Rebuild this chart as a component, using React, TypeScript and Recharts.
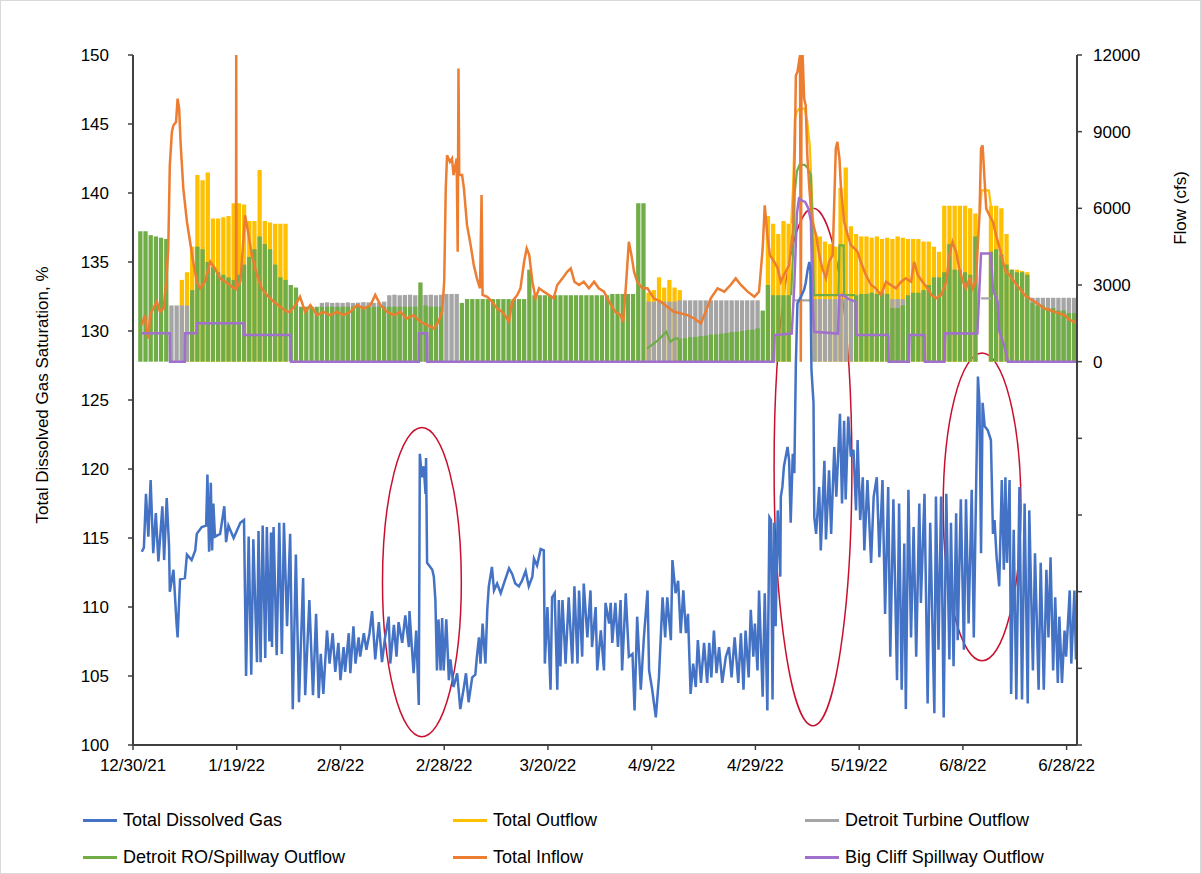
import React from "react";
import { ComposedChart, Bar, Line, XAxis, YAxis, ReferenceArea } from "recharts";

const FONT = '"Liberation Sans", Arial, sans-serif';
const BAR_W = 4.3;

// x axis: days after 12/30/21
const dayTicks = [0, 20, 40, 60, 80, 100, 120, 140, 160, 180];
const dayLabels = ["12/30/21", "1/19/22", "2/8/22", "2/28/22", "3/20/22", "4/9/22", "4/29/22", "5/19/22", "6/8/22", "6/28/22"];
const tdgTicks = [100, 105, 110, 115, 120, 125, 130, 135, 140, 145, 150];
const flowTicks = [-15000, -12000, -9000, -6000, -3000, 0, 3000, 6000, 9000, 12000];

// daily stripe tops (cfs) where the hourly flow flickers to zero, index = day
const outflowDaily = [
  0, 0, 0, 0, 0, 0, 0, 0, 0, 3200, 3500, 4500, 7300, 7100, 7400, 5600, 5600, 5650, 5700, 6200,
  6200, 6150, 5500, 5500, 7500, 5500, 5450, 5400, 5400, 5400, 0, 0, 0, 0, 0, 0, 0, 0, 0, 0,
  0, 0, 0, 0, 0, 0, 0, 0, 0, 0, 0, 0, 0, 0, 0, 0, 0, 0, 0, 0,
  0, 0, 0, 0, 0, 0, 0, 0, 0, 0, 0, 0, 0, 0, 0, 0, 0, 0, 0, 0,
  0, 0, 0, 0, 0, 0, 0, 0, 0, 0, 0, 0, 0, 0, 0, 0, 0, 0, 0, 2700,
  2800, 3300, 2900, 3200, 2900, 2800, 0, 0, 0, 0, 0, 0, 0, 0, 0, 0, 0, 0, 0, 0,
  0, 0, 5700, 5400, 5000, 5500, 5400, 0, 0, 0, 0, 4900, 4900, 4700, 4600, 4500, 6800, 7600, 5300, 5000,
  4900, 4900, 4850, 4900, 4800, 4850, 4800, 4900, 4850, 4800, 4800, 4800, 4700, 4700, 4500, 4300, 6100, 6100, 6100, 6100,
  6100, 6000, 5800, 0, 0, 6100, 6100, 6000, 5000, 3600, 3600, 3550, 3500, 0, 0, 0, 0, 0, 0, 0,
  0, 0,
];
const turbineDaily = [
  0, 0, 0, 0, 0, 0, 0, 2200, 2200, 2200, 2200, 0, 0, 0, 0, 0, 0, 0, 0, 0,
  0, 0, 0, 0, 0, 0, 0, 0, 0, 0, 0, 0, 0, 0, 0, 0, 2300, 2320, 2300, 2310,
  2300, 2320, 2300, 2310, 2330, 2320, 2300, 2310, 2350, 2600, 2620, 2600, 2610, 2620, 2600, 2600, 2610, 2620, 2600, 2620,
  2650, 2650, 2650, 0, 0, 0, 0, 0, 0, 0, 0, 0, 0, 0, 0, 0, 0, 0, 0, 0,
  0, 0, 0, 0, 0, 0, 0, 0, 0, 0, 0, 0, 0, 0, 0, 0, 0, 0, 0, 2350,
  2350, 2350, 2350, 2350, 2350, 2400, 2400, 2400, 2400, 2400, 2400, 2400, 2400, 2400, 2400, 2400, 2400, 2400, 2400, 2400,
  2400, 0, 0, 0, 0, 0, 0, 0, 0, 0, 0, 2450, 2450, 2450, 2450, 2450, 2450, 2450, 2450, 0,
  0, 0, 0, 0, 0, 0, 2450, 2450, 2450, 0, 0, 0, 0, 0, 0, 0, 0, 0, 0, 0,
  0, 0, 0, 0, 0, 0, 0, 0, 0, 0, 0, 0, 0, 2500, 2500, 2500, 2500, 2500, 2500, 2500,
  2500, 2500,
];
const spillDaily = [
  0, 5100, 5100, 4950, 4900, 4850, 4800, 0, 0, 0, 0, 2800, 4500, 4400, 3900, 3700, 3500, 3400, 3300, 3200,
  3400, 3800, 4100, 4400, 4900, 4600, 4400, 3800, 3300, 3200, 3000, 2900, 2150, 2150, 2150, 2150, 2150, 2150, 2150, 2150,
  2150, 2150, 2150, 2150, 2150, 2150, 2150, 2150, 2150, 2150, 2150, 2150, 2150, 2150, 2150, 3100, 2200, 2150, 2150, 2150,
  0, 0, 0, 2300, 2450, 2450, 2450, 2450, 2450, 2450, 2450, 2450, 2450, 2450, 2450, 2450, 3600, 2600, 2600, 2600,
  2600, 2600, 2600, 2600, 2600, 2600, 2600, 2600, 2600, 2600, 2600, 2600, 2650, 2650, 2650, 2650, 2650, 6200, 6200, 0,
  0, 0, 0, 0, 0, 900, 920, 960, 970, 1000, 1020, 1060, 1070, 1100, 1120, 1160, 1170, 1200, 1240, 1250,
  1300, 2000, 3000, 2600, 2600, 2600, 2600, 0, 0, 0, 0, 0, 0, 0, 0, 0, 0, 0, 0, 2600,
  2650, 2650, 2700, 2650, 2700, 2650, 2100, 2100, 2200, 2600, 2700, 2700, 2800, 3000, 3300, 3300, 3500, 4600, 3600, 3600,
  3500, 3400, 4900, 0, 0, 4300, 4400, 4200, 3800, 3600, 3500, 3500, 3400, 2300, 2200, 2200, 2100, 2100, 2000, 2000,
  1900, 1900,
];

// [day, value] readings; null breaks a line
const tdgPoints: [number, number][] = [
  [1.7, 114.0], [2.1, 114.3], [2.5, 118.2], [2.96, 115.1], [3.4, 119.2], [3.9, 113.9], [4.4, 116.8], [4.9, 113.3],
  [5.66, 117.3], [6.0, 113.4], [6.5, 117.9], [6.95, 114.4], [7.1, 111.1], [7.8, 112.7], [8.4, 108.8], [8.6, 107.8],
  [9.07, 112.0], [10.0, 112.1], [10.4, 113.8], [11.3, 113.4], [12.0, 114.1], [12.3, 115.3], [13.25, 115.8], [14.1, 115.9],
  [14.35, 119.6], [14.67, 114.0], [15.0, 119.0], [15.25, 114.1], [15.5, 117.5], [15.8, 115.1], [16.8, 115.3], [17.6, 117.3],
  [17.95, 114.7], [18.4, 115.9], [19.4, 115.0], [20.7, 116.1], [21.4, 116.3], [21.8, 105.0], [22.3, 115.1], [22.8, 105.1],
  [23.2, 114.9], [23.9, 106.0], [24.2, 115.5], [24.6, 106.0], [25.0, 115.9], [25.5, 106.3], [25.8, 115.8], [26.3, 107.5],
  [26.6, 115.4], [26.8, 107.1], [27.1, 115.8], [27.7, 106.5], [28.2, 116.1], [28.7, 106.6], [29.1, 116.1], [29.7, 108.6],
  [30.3, 115.3], [30.8, 102.6], [31.4, 113.8], [32.0, 103.1], [32.8, 112.1], [33.2, 103.6], [34.0, 110.5], [34.7, 103.6],
  [35.3, 109.5], [35.8, 103.4], [36.2, 106.6], [36.7, 103.7], [37.4, 108.3], [37.9, 105.9], [38.5, 108.1], [39.0, 105.3],
  [39.6, 107.4], [40.0, 104.7], [40.6, 107.1], [40.9, 105.3], [41.6, 108.1], [41.9, 105.2], [42.5, 108.6], [42.9, 105.9],
  [43.5, 107.8], [43.8, 106.4], [44.5, 108.1], [45.0, 106.9], [45.6, 108.1], [46.1, 109.7], [46.7, 106.2], [47.4, 108.9],
  [48.0, 106.0], [48.6, 107.8], [49.3, 109.3], [49.6, 105.9], [50.3, 108.7], [50.8, 106.4], [51.2, 108.9], [51.9, 107.4],
  [52.5, 109.4], [53.2, 107.1], [53.3, 109.7], [54.1, 105.2], [54.6, 108.3], [55.1, 102.9], [55.3, 121.1], [55.7, 119.4],
  [56.05, 120.2], [56.4, 118.2], [56.5, 120.8], [56.7, 113.2], [57.3, 112.9], [57.7, 112.7], [58.0, 112.2], [58.3, 110.5],
  [58.6, 105.4], [58.9, 109.1], [59.3, 105.4], [59.6, 109.2], [59.9, 105.4], [60.4, 109.1], [60.9, 104.7], [61.2, 106.2],
  [61.8, 104.2], [62.5, 105.2], [63.1, 102.6], [63.8, 104.2], [64.2, 105.2], [64.7, 103.1], [65.4, 104.9], [66.0, 105.1],
  [66.3, 106.4], [66.7, 107.8], [67.0, 105.9], [67.4, 108.8], [67.95, 105.9], [68.3, 109.8], [68.6, 111.5], [69.2, 112.9],
  [69.6, 111.2], [70.2, 111.7], [70.9, 111.0], [71.5, 111.7], [72.5, 112.8], [73.1, 112.4], [73.7, 111.7], [74.4, 111.5],
  [75.0, 111.9], [75.7, 112.6], [76.3, 111.5], [77.0, 112.2], [77.3, 113.5], [77.9, 113.0], [78.6, 114.2], [79.2, 114.1],
  [79.4, 105.9], [79.9, 110.0], [80.5, 104.0], [80.8, 110.7], [81.3, 111.0], [81.8, 104.0], [82.1, 110.5], [82.4, 105.7],
  [82.8, 110.5], [83.4, 105.9], [84.0, 110.7], [84.7, 105.9], [85.1, 111.5], [85.7, 105.9], [86.0, 111.2], [86.6, 106.4],
  [86.9, 111.7], [87.6, 107.8], [88.2, 111.2], [88.5, 107.1], [89.2, 110.0], [89.5, 105.4], [90.2, 108.3], [90.8, 105.4],
  [91.1, 110.3], [91.8, 108.8], [92.1, 110.3], [92.4, 107.4], [93.0, 110.3], [93.5, 107.1], [94.0, 110.5], [94.3, 105.4],
  [95.0, 111.0], [95.6, 106.4], [96.3, 106.6], [96.7, 102.5], [97.2, 109.3], [97.9, 104.0], [98.5, 107.8], [99.2, 111.2],
  [99.5, 105.4], [100.1, 104.0], [100.8, 102.0], [101.4, 104.9], [102.1, 110.7], [102.6, 107.8], [103.0, 110.7], [103.7, 107.6],
  [104.0, 113.4], [104.6, 111.0], [105.1, 111.9], [105.6, 108.1], [106.1, 111.2], [106.6, 108.1], [107.0, 109.5], [107.5, 103.7],
  [108.0, 105.9], [108.5, 104.2], [108.9, 107.6], [109.5, 104.5], [110.1, 107.4], [110.7, 104.5], [111.1, 107.4], [111.5, 104.9],
  [112.0, 108.3], [112.5, 105.2], [113.0, 107.1], [113.6, 104.5], [114.3, 106.4], [114.9, 107.1], [115.4, 104.9], [116.0, 107.8],
  [116.7, 104.5], [117.2, 108.1], [117.7, 104.0], [118.1, 108.3], [118.7, 104.9], [119.1, 109.8], [119.6, 106.4], [119.9, 108.8],
  [120.4, 105.4], [120.7, 111.2], [121.4, 103.5], [121.8, 111.0], [122.3, 102.5], [122.7, 116.5], [123.0, 116.3], [123.3, 103.3],
  [123.6, 116.1], [123.9, 108.6], [124.3, 117.0], [124.8, 112.2], [124.9, 118.0], [125.2, 118.7], [125.5, 120.2], [126.2, 121.6],
  [126.5, 120.6], [126.8, 116.1], [127.2, 121.1], [127.5, 119.7], [127.8, 127.7], [128.1, 132.0], [128.8, 132.5], [129.4, 133.0],
  [129.7, 133.5], [130.05, 134.4], [130.4, 135.0], [130.6, 134.4], [130.8, 127.2], [131.0, 126.0], [131.2, 124.8], [131.35, 116.5],
  [131.7, 115.3], [132.3, 118.7], [132.6, 114.1], [133.3, 120.6], [133.6, 114.9], [134.2, 119.9], [134.6, 115.3], [135.2, 121.6],
  [135.6, 118.0], [136.3, 124.0], [136.7, 117.5], [137.1, 123.5], [137.4, 117.8], [137.9, 123.8], [138.4, 120.9], [138.9, 121.4],
  [139.4, 117.0], [139.7, 122.1], [140.2, 116.3], [140.7, 119.4], [141.0, 114.1], [141.6, 119.2], [142.3, 113.2], [142.8, 118.0],
  [143.4, 119.4], [143.9, 113.6], [144.5, 119.2], [145.0, 109.5], [145.6, 118.7], [146.0, 106.4], [146.6, 117.8], [147.3, 104.7],
  [147.7, 117.5], [148.2, 104.0], [148.7, 114.6], [149.0, 102.6], [149.5, 118.5], [150.0, 107.8], [150.5, 115.8], [151.0, 106.4],
  [151.6, 117.5], [151.9, 110.3], [152.6, 118.2], [153.2, 103.0], [153.7, 116.1], [154.5, 102.3], [154.8, 118.0], [155.3, 106.9],
  [155.8, 118.0], [156.3, 102.0], [156.8, 118.2], [157.4, 106.2], [157.7, 116.1], [158.2, 105.7], [158.7, 116.8], [159.0, 107.6],
  [159.6, 117.8], [160.2, 106.9], [160.6, 117.8], [161.1, 108.8], [161.7, 118.5], [162.1, 107.8], [162.4, 115.1], [162.9, 126.7],
  [163.2, 124.8], [163.5, 113.9], [163.8, 124.8], [164.2, 123.1], [164.8, 122.8], [165.4, 122.1], [165.8, 115.3], [166.1, 116.3],
  [166.5, 113.6], [167.0, 111.5], [167.5, 119.2], [167.9, 112.7], [168.2, 119.4], [168.5, 113.2], [169.0, 119.2], [169.3, 103.7],
  [169.8, 115.6], [170.3, 103.3], [170.9, 118.7], [171.4, 103.3], [171.9, 117.5], [172.5, 103.0], [172.8, 117.0], [173.5, 105.4],
  [173.9, 113.9], [174.6, 104.0], [175.0, 113.2], [175.6, 104.0], [176.1, 112.7], [176.5, 107.8], [176.9, 113.6], [177.4, 105.4],
  [177.8, 110.7], [178.3, 104.5], [178.6, 109.3], [179.1, 104.5], [179.6, 108.3], [179.9, 106.4], [180.6, 111.2], [180.9, 105.9],
  [181.5, 111.2], [181.8, 106.2], [182.0, 108.3],
];

const inflowPoints: [number, number][] = [
  [1.7, 1430], [2.3, 1820], [2.6, 1300], [2.96, 910], [3.3, 1820], [3.9, 2080], [4.6, 2350], [5.2, 1950], [5.9, 2080],
  [6.4, 3130], [6.8, 4430], [7.1, 7690], [7.5, 9000], [7.8, 9250], [8.3, 9380], [8.6, 10290], [8.9, 9900], [9.2, 8470],
  [9.7, 6780], [10.4, 5470], [11.0, 4690], [11.6, 3910], [12.3, 3130], [12.9, 2870], [13.9, 3130], [14.9, 3910], [15.8, 3650],
  [16.8, 3260], [17.8, 3130], [18.7, 3000], [19.4, 2870], [19.85, 2870], [19.9, 12000], [19.95, 2870], [20.7, 3130], [21.3, 4820],
  [21.6, 5730], [22.3, 4950], [22.9, 4170], [23.9, 3390], [24.8, 2870], [25.8, 2610], [27.1, 2350], [28.4, 2150], [29.7, 1950],
  [30.3, 1950], [31.3, 2215], [32.2, 2540], [33.2, 1950], [34.2, 2215], [35.5, 1820], [36.7, 1950], [38.0, 1820], [39.3, 1950],
  [40.6, 1820], [41.9, 1950], [43.2, 2215], [44.5, 2080], [45.8, 2215], [46.7, 2610], [47.7, 2215], [49.0, 1950], [50.3, 1820],
  [51.5, 1950], [52.8, 1690], [54.1, 1820], [55.4, 1560], [56.7, 1430], [58.0, 1300], [58.9, 1560], [59.6, 1950], [60.0, 3130],
  [60.3, 6780], [60.55, 8080], [61.1, 7820], [61.5, 7950], [61.8, 7300], [62.4, 7950], [62.6, 4300], [62.75, 11470], [62.9, 7300],
  [63.45, 7300], [63.8, 6780], [64.4, 5340], [65.1, 4560], [65.7, 3780], [66.3, 3260], [66.9, 2870], [67.2, 6520], [67.4, 2610],
  [68.3, 2540], [69.2, 2350], [70.2, 2080], [71.2, 1950], [72.1, 1690], [72.5, 1560], [73.1, 2350], [74.1, 2610], [74.7, 2870],
  [75.4, 3910], [75.9, 4430], [76.4, 4170], [77.0, 3130], [77.6, 2480], [78.3, 2870], [79.2, 2740], [80.2, 2610], [81.1, 2480],
  [81.8, 3000], [82.8, 3260], [83.7, 3520], [84.4, 3650], [85.1, 3130], [86.0, 3000], [86.9, 3130], [87.9, 2870], [88.9, 3130],
  [89.8, 2870], [90.8, 2740], [91.8, 2350], [93.0, 1950], [94.0, 1820], [94.5, 1560], [95.0, 2870], [95.6, 4690], [96.1, 4170],
  [96.6, 3520], [97.2, 3130], [98.2, 2870], [99.2, 2870], [100.4, 2480], [101.7, 2350], [103.0, 2150], [104.3, 1950], [105.6, 1890],
  [106.9, 1820], [108.2, 1690], [109.5, 1500], [110.4, 1950], [111.4, 2480], [112.7, 2870], [114.0, 2740], [115.2, 3000], [116.2, 3260],
  [117.2, 3000], [118.5, 2740], [119.8, 2540], [120.7, 2740], [121.4, 4430], [121.8, 6120], [122.3, 4950], [122.8, 4170], [123.6, 3910],
  [124.3, 3650], [124.9, 3130], [125.5, 3390], [126.5, 3780], [127.2, 5080], [127.6, 8340], [127.8, 11200], [128.1, 11340], [128.6, 12000],
  [128.75, 0], [128.9, 12000], [129.1, 12000], [129.4, 10290], [129.7, 10030], [130.0, 8080], [130.4, 6780], [130.7, 5990], [131.0, 5470],
  [131.7, 4950], [132.3, 4170], [132.9, 3650], [133.6, 3260], [134.2, 3910], [134.9, 4170], [135.5, 8340], [135.8, 8600], [136.2, 7950],
  [136.5, 6780], [137.1, 5470], [137.8, 4950], [138.4, 4560], [139.1, 4430], [139.7, 4300], [140.3, 3910], [141.3, 3390], [142.3, 3000],
  [143.2, 2870], [144.2, 2610], [145.2, 3130], [146.1, 3000], [147.1, 2870], [148.1, 3130], [149.0, 3260], [150.0, 3130], [150.6, 3910],
  [151.3, 3390], [152.2, 3130], [153.2, 2870], [153.9, 2610], [154.8, 2480], [155.8, 2610], [156.8, 3130], [157.4, 4170], [158.0, 4690],
  [158.7, 4300], [159.3, 3650], [160.0, 3130], [160.6, 2870], [161.3, 3260], [161.9, 2870], [162.5, 3130], [163.2, 5730], [163.5, 8340],
  [163.8, 8470], [164.2, 7040], [164.5, 5990], [165.1, 5730], [165.8, 5470], [166.4, 4950], [167.1, 4430], [167.7, 3910], [168.3, 3520],
  [169.0, 3390], [169.9, 3130], [170.9, 2870], [171.9, 2610], [172.8, 2480], [173.8, 2350], [174.8, 2215], [175.7, 2080], [176.7, 2020],
  [177.7, 1950], [178.6, 1890], [179.6, 1820], [180.6, 1630], [181.5, 1560], [182.2, 1430],
];

const bigCliffPoints: [number, number][] = [
  [1.7, 1110], [7.1, 1110], [7.15, 0], [10.0, 0], [10.05, 1110], [12.3, 1110], [12.35, 1500], [21.3, 1500], [21.35, 1040],
  [30.4, 1040], [30.5, 0], [55.1, 0], [55.15, 1110], [56.7, 1110], [56.75, 0], [123.5, 0], [123.7, 1040], [127.0, 1100],
  [127.5, 3000], [128.0, 5800], [128.4, 6380], [129.0, 6300], [129.6, 6250], [130.2, 6000], [130.7, 5500], [131.0, 2350],
  [131.3, 1170], [135.9, 1100], [136.2, 2600], [136.8, 2610], [138.0, 2450], [139.3, 2350], [139.4, 1040], [145.6, 1040],
  [145.7, 0], [149.6, 0], [149.7, 1040], [152.6, 1040], [152.7, 0], [156.4, 0], [156.6, 1110], [162.8, 1100], [163.1, 2500],
  [163.5, 4230], [165.4, 4230], [165.8, 2800], [166.7, 2350], [167.0, 1200], [168.0, 600], [168.7, 0], [182.2, 0],
];

// stretches where the flows run steady (drawn as plain lines)
const spillLinePoints: [number, number | null][] = [
  [99.1, 520], [100.0, 650], [101.0, 800], [102.0, 1000], [102.8, 1170], [103.6, 780], [104.5, 900], [105.2, 910], [115, null],
  [126.9, 2600], [127.3, 4500], [127.6, 6650], [128.0, 7450], [128.5, 7700], [129.5, 7700], [130.0, 7600], [130.7, 7300],
  [131.0, 5000], [131.3, 2600], [136.0, 2600], [136.2, 4550], [137.0, 4550], [137.1, 2600], [139.2, 2600],
];
const outflowLinePoints: [number, number | null][] = [
  [126.9, 5400], [127.3, 7000], [127.6, 9500], [128.0, 9800], [128.5, 9900], [129.5, 9900], [130.0, 9400], [130.5, 8400],
  [131.0, 6000], [131.3, 4900], [150, null], [163.3, 5800], [163.6, 6700], [165.0, 6700], [165.4, 6100],
];
const turbineLinePoints: [number, number | null][] = [
  [127.4, 2400], [131.3, 2400], [150, null], [163.5, 2480], [165.4, 2480],
];

// circled events: [startDay, endDay], [low %, high %]
const highlightDays = [[48.1, 63.3], [123.6, 138.6], [156.2, 171.2]];
const highlightTdg = [[100.6, 123.0], [101.4, 138.9], [106.1, 128.4]];

const legendItems = [
  { name: "Total Dissolved Gas", color: "#4472C4" },
  { name: "Total Outflow", color: "#FFC000" },
  { name: "Detroit Turbine Outflow", color: "#A5A5A5" },
  { name: "Detroit RO/Spillway Outflow", color: "#70AD47" },
  { name: "Total Inflow", color: "#ED7D31" },
  { name: "Big Cliff Spillway Outflow", color: "#A070CC" },
];

const dailyRows = spillDaily.map((g, i) => ({
  day: i,
  outflow: outflowDaily[i],
  turbine: turbineDaily[i],
  spill: g,
}));

const toRows = (pts: [number, number | null][]) => pts.map(([d, v]) => ({ d, v }));

const EllipseShape = (props: any) => {
  const { x, y, width, height } = props;
  return (
    <ellipse
      cx={x + width / 2}
      cy={y + height / 2}
      rx={Math.abs(width) / 2}
      ry={Math.abs(height) / 2}
      fill="none"
      stroke="#C8102E"
      strokeWidth={1.5}
    />
  );
};

const tickStyle = { fill: "#000", fontSize: 17, fontFamily: FONT };
const axisColor = "#404040";

export default function App() {
  return (
    <div style={{ position: "absolute", left: 0, top: 0, width: 1201, height: 874, background: "#fff", fontFamily: FONT }}>
      <div style={{ position: "absolute", left: 0, top: 0, width: 1199, height: 872, border: "1px solid #d9d9d9" }} />
      <ComposedChart
        width={1201}
        height={790}
        data={dailyRows}
        margin={{ top: 55, right: 0, bottom: 0, left: 0 }}
        barSize={BAR_W}
        barGap={-BAR_W}
        barCategoryGap={0}
      >
        <XAxis xAxisId="cat" dataKey="day" type="category" orientation="top" height={0} hide />
        <XAxis
          xAxisId="t"
          dataKey="d"
          type="number"
          domain={[0, 182]}
          ticks={dayTicks}
          tickFormatter={(v) => dayLabels[dayTicks.indexOf(v)] ?? ""}
          height={45}
          tickSize={5}
          tickMargin={9}
          tick={tickStyle}
          axisLine={{ stroke: axisColor, strokeWidth: 2 }}
          tickLine={{ stroke: axisColor, strokeWidth: 1.5 }}
          allowDataOverflow
        />
        <YAxis
          yAxisId="tdg"
          orientation="left"
          width={133}
          domain={[100, 150]}
          ticks={tdgTicks}
          tickSize={5}
          tickMargin={19}
          tick={tickStyle}
          axisLine={{ stroke: axisColor, strokeWidth: 2 }}
          tickLine={{ stroke: axisColor, strokeWidth: 1.5 }}
          allowDataOverflow
        />
        <YAxis
          yAxisId="flow"
          orientation="right"
          width={124}
          domain={[-15000, 12000]}
          ticks={flowTicks}
          tickFormatter={(v) => (v >= 0 ? String(v) : "")}
          tickSize={5}
          tickMargin={11}
          tick={tickStyle}
          axisLine={{ stroke: axisColor, strokeWidth: 2 }}
          tickLine={{ stroke: axisColor, strokeWidth: 1.5 }}
          allowDataOverflow
        />

        <Bar xAxisId="cat" yAxisId="flow" dataKey="outflow" fill="#FFC000" barSize={BAR_W} isAnimationActive={false} activeBar={false} />
        <Bar xAxisId="cat" yAxisId="flow" dataKey="turbine" fill="#A5A5A5" barSize={BAR_W} isAnimationActive={false} activeBar={false} />
        <Bar xAxisId="cat" yAxisId="flow" dataKey="spill" fill="#70AD47" barSize={BAR_W} isAnimationActive={false} activeBar={false} />

        <Line xAxisId="t" yAxisId="flow" data={toRows(outflowLinePoints)} dataKey="v" stroke="#FFC000" strokeWidth={2.2} dot={false} isAnimationActive={false} />
        <Line xAxisId="t" yAxisId="flow" data={toRows(turbineLinePoints)} dataKey="v" stroke="#A5A5A5" strokeWidth={2.2} dot={false} isAnimationActive={false} />
        <Line xAxisId="t" yAxisId="flow" data={toRows(spillLinePoints)} dataKey="v" stroke="#70AD47" strokeWidth={2.2} dot={false} isAnimationActive={false} />
        <Line xAxisId="t" yAxisId="flow" data={toRows(inflowPoints)} dataKey="v" stroke="#ED7D31" strokeWidth={2.5} dot={false} isAnimationActive={false} />
        <Line xAxisId="t" yAxisId="flow" data={toRows(bigCliffPoints)} dataKey="v" stroke="#A070CC" strokeWidth={2.5} dot={false} isAnimationActive={false} />
        <Line xAxisId="t" yAxisId="tdg" data={toRows(tdgPoints)} dataKey="v" stroke="#4472C4" strokeWidth={2.5} dot={false} isAnimationActive={false} />

        {highlightDays.map(([x1, x2], i) => (
          <ReferenceArea
            key={`hl-${i}`}
            xAxisId="t"
            yAxisId="tdg"
            x1={x1}
            x2={x2}
            y1={highlightTdg[i][0]}
            y2={highlightTdg[i][1]}
            ifOverflow="visible"
            shape={EllipseShape}
          />
        ))}
      </ComposedChart>

      <svg width={1201} height={874} style={{ position: "absolute", left: 0, top: 0, pointerEvents: "none" }}>
        <text
          transform="translate(48 395) rotate(-90)"
          textAnchor="middle"
          fontSize={17}
          fontFamily={FONT}
          fill="#000"
        >
          Total Dissolved Gas Saturation, %
        </text>
        <text
          transform="translate(1186 208) rotate(-90)"
          textAnchor="middle"
          fontSize={17}
          fontFamily={FONT}
          fill="#000"
        >
          Flow (cfs)
        </text>
      </svg>

      {legendItems.map((item, i) => {
        const col = i % 3;
        const row = Math.floor(i / 3);
        const left = [83, 453, 805][col];
        const top = [820, 857][row];
        return (
          <div
            key={item.name}
            style={{ position: "absolute", left, top: top - 11, height: 22, display: "flex", alignItems: "center", whiteSpace: "nowrap" }}
          >
            <div style={{ width: 34, height: 3, background: item.color, marginRight: 6 }} />
            <span style={{ fontSize: 18, color: "#000" }}>{item.name}</span>
          </div>
        );
      })}
    </div>
  );
}
